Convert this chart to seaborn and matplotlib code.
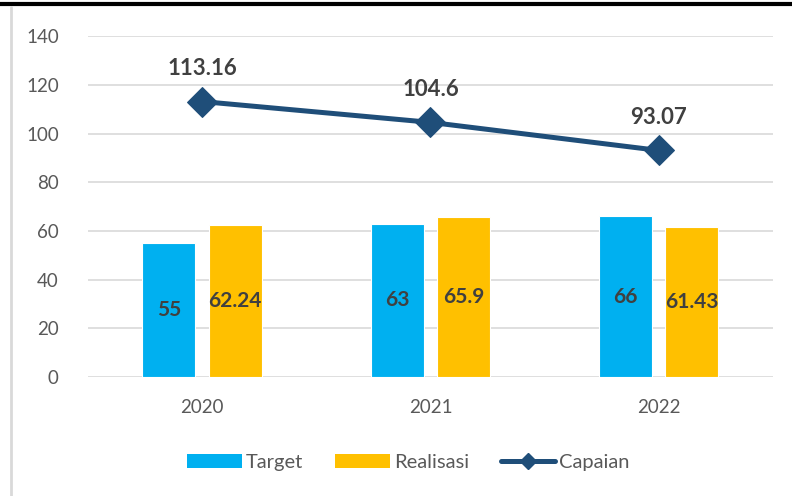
import pandas as pd
import matplotlib
matplotlib.use("Agg")
import matplotlib.pyplot as plt
import seaborn as sns
from matplotlib.lines import Line2D
from matplotlib.patches import Patch

# Data
years = ["2020", "2021", "2022"]
target = [55, 63, 66]
realisasi = [62.24, 65.9, 61.43]
capaian = [113.16, 104.6, 93.07]
capaian_labels = ["113.16", "104.6", "93.07"]
bar_labels_target = ["55", "63", "66"]
bar_labels_realisasi = ["62.24", "65.9", "61.43"]

c_target = "#00B0F0"
c_real = "#FFC000"
c_cap = "#1F4E79"
txt = "#595959"
lbl = "#404040"

sns.set_style("white")
plt.rcParams["font.family"] = ["Lato", "DejaVu Sans"]

df = pd.DataFrame({
    "year": years * 2,
    "value": target + realisasi,
    "series": ["Target"] * 3 + ["Realisasi"] * 3,
})

fig = plt.figure(figsize=(7.92, 4.96), dpi=100)
ax = fig.add_axes([0.111, 0.240, 0.865, 0.687])

sns.barplot(data=df, x="year", y="value", hue="series",
            palette=[c_target, c_real], saturation=1, width=0.58, gap=0.2,
            edgecolor="white", linewidth=0.8, ax=ax, legend=False, zorder=2)

sns.lineplot(x=list(range(len(years))), y=capaian, color=c_cap, linewidth=3.6,
             marker="D", markersize=15, markeredgecolor=c_cap, ax=ax, zorder=4)

# bar labels, centered in bars
for cont, labels in zip(ax.containers, [bar_labels_target, bar_labels_realisasi]):
    ax.bar_label(cont, labels=labels, label_type="center", fontsize=15,
                 fontweight="bold", color=lbl)

for i, (v, s) in enumerate(zip(capaian, capaian_labels)):
    ax.annotate(s, (i, v), xytext=(0, 24), textcoords="offset points",
                ha="center", va="center", fontsize=16, fontweight="bold", color=lbl)

ax.set_ylim(0, 140)
ax.set_yticks(range(0, 141, 20))
ax.set_xlim(-0.5, 2.5)
ax.grid(axis="y", color="#D9D9D9", linewidth=1.2, zorder=0)
ax.set_axisbelow(True)
for sp in ax.spines.values():
    sp.set_visible(False)
ax.set_xlabel("")
ax.set_ylabel("")
ax.tick_params(axis="y", length=0, pad=21, labelsize=13.5, labelcolor=txt)
ax.tick_params(axis="x", length=0, pad=16, labelsize=13.5, labelcolor=txt)

handles = [
    Patch(facecolor=c_target, edgecolor="none"),
    Patch(facecolor=c_real, edgecolor="none"),
    Line2D([0], [0], color=c_cap, linewidth=3.6, marker="D", markersize=8),
]
fig.legend(handles, ["Target", "Realisasi", "Capaian"], loc="center",
           bbox_to_anchor=(0.516, 0.068), ncol=3, frameon=False, fontsize=14.5,
           labelcolor=txt, handlelength=2.7, handleheight=0.75,
           handletextpad=0.2, columnspacing=1.6)

# page borders from the source screenshot
fig.add_artist(Line2D([0, 1], [0.991, 0.991], color="black", linewidth=3,
                      transform=fig.transFigure))
fig.add_artist(Line2D([0.0145, 0.0145], [0, 0.985], color="#D9D9D9", linewidth=2,
                      transform=fig.transFigure))

fig.savefig("out.png", dpi=100)
